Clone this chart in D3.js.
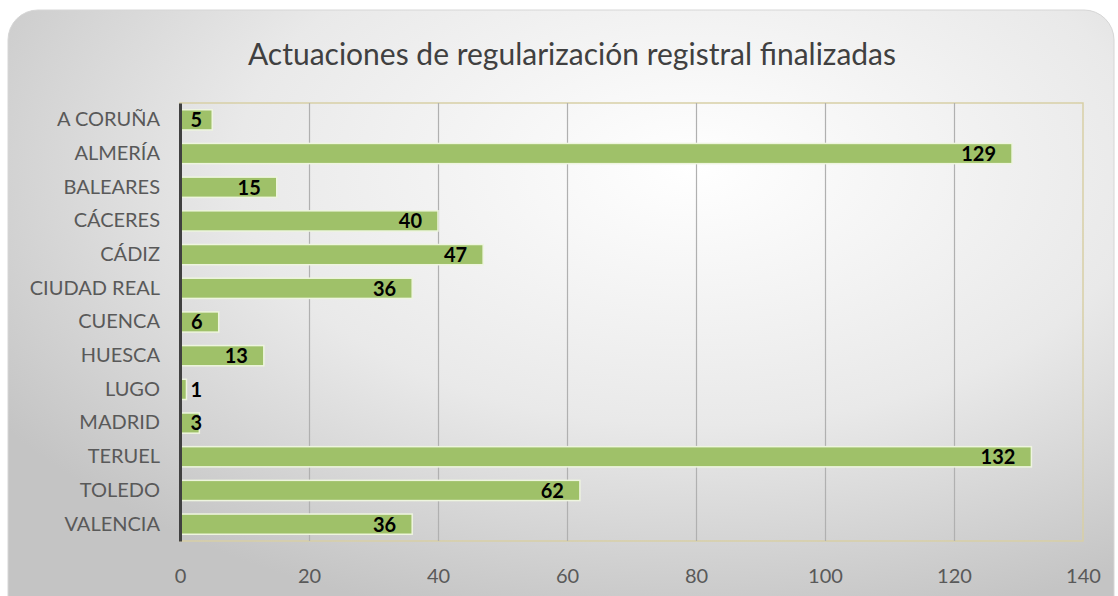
<!DOCTYPE html>
<html lang="es">

<head>
  <meta charset="UTF-8">
  <title>Actuaciones de regularización registral finalizadas</title>
  <script src="https://d3js.org/d3.v7.min.js"></script>
  <style>
    body { margin: 0; background: #ffffff; }
    text { font-family: Lato, "Open Sans", sans-serif; }
  </style>
</head>

<body>
  <svg id='chart' width=1118 height=596></svg>

  <script>
    // data
    const provincias = ["A CORUÑA", "ALMERÍA", "BALEARES", "CÁCERES", "CÁDIZ", "CIUDAD REAL", "CUENCA",
      "HUESCA", "LUGO", "MADRID", "TERUEL", "TOLEDO", "VALENCIA"];
    const actuaciones = [5, 129, 15, 40, 47, 36, 6, 13, 1, 3, 132, 62, 36];
    const xTicks = [0, 20, 40, 60, 80, 100, 120, 140];
    const title = 'Actuaciones de regularización registral finalizadas';

    const svg = d3.select('svg#chart');
    const width = +svg.attr('width');
    const height = +svg.attr('height');
    const margin = { top: 103, right: 35, bottom: 55, left: 180 };
    const chartWidth = width - margin.left - margin.right;
    const chartHeight = height - margin.top - margin.bottom;

    // panel background with a soft radial gradient
    const defs = svg.append('defs');
    const grad = defs.append('radialGradient').attr('id', 'bg')
      .attr('cx', '62%').attr('cy', '25%').attr('r', '75%');
    grad.append('stop').attr('offset', '0%').attr('stop-color', '#ffffff');
    grad.append('stop').attr('offset', '55%').attr('stop-color', '#e9e9e9');
    grad.append('stop').attr('offset', '100%').attr('stop-color', '#c4c4c4');

    svg.append('rect')
      .attr('x', 8).attr('y', 10)
      .attr('width', width - 12).attr('height', height + 30)
      .attr('rx', 30).attr('ry', 30)
      .attr('fill', 'url(#bg)')
      .attr('stroke', '#d6d6d6');

    // title
    svg.append('text')
      .attr('x', 572).attr('y', 65)
      .attr('text-anchor', 'middle')
      .style('font-size', '30px')
      .attr('fill', '#404040')
      .text(title);

    // scales
    const xScale = d3.scaleLinear().domain([0, 140]).range([0, chartWidth]);
    const yScale = d3.scaleBand().domain(provincias).range([0, chartHeight]).paddingInner(0.4).paddingOuter(0.2);

    let chartArea = svg.append('g')
      .attr('transform', 'translate(' + margin.left + ', ' + margin.top + ')');

    // plot area border
    chartArea.append('rect')
      .attr('width', chartWidth).attr('height', chartHeight)
      .attr('fill', 'none')
      .attr('stroke', '#d8cfa6')
      .attr('stroke-width', 1.5);

    // vertical gridlines
    let gridlines = d3.axisBottom(xScale)
      .tickValues(xTicks.slice(1, -1))
      .tickSize(-chartHeight)
      .tickFormat('');
    chartArea.append('g')
      .attr('class', 'x-gridlines')
      .attr('transform', 'translate(0, ' + chartHeight + ')')
      .call(gridlines)
      .call(g => g.select('.domain').remove())
      .call(g => g.selectAll('line').attr('stroke', '#b0b0b0').attr('stroke-width', 1.2));

    // x-axis labels
    let bottomAxis = d3.axisBottom(xScale)
      .tickValues(xTicks)
      .tickSize(0)
      .tickPadding(28)
      .tickFormat(d3.format('d'));
    chartArea.append('g')
      .attr('class', 'x-axis')
      .attr('transform', 'translate(0, ' + chartHeight + ')')
      .call(bottomAxis)
      .call(g => g.select('.domain').remove())
      .call(g => g.selectAll('text')
        .style('font-family', 'Lato, sans-serif')
        .style('font-size', '20px')
        .attr('fill', '#595959'));

    // bars
    chartArea.selectAll('rect.bar')
      .data(actuaciones)
      .join('rect')
      .attr('class', 'bar')
      .attr('x', 0)
      .attr('y', (d, i) => yScale(provincias[i]))
      .attr('width', d => xScale(d))
      .attr('height', yScale.bandwidth())
      .attr('fill', '#9fc169')
      .attr('stroke', '#eef5df')
      .attr('stroke-width', 1.5);

    // data labels
    chartArea.selectAll('text.label')
      .data(actuaciones)
      .join('text')
      .attr('class', 'label')
      .attr('x', d => Math.max(xScale(d) - 16, 22))
      .attr('y', (d, i) => yScale(provincias[i]) + yScale.bandwidth() / 2)
      .attr('dy', '0.37em')
      .attr('text-anchor', 'end')
      .style('font-size', '20px')
      .style('font-weight', 'bold')
      .attr('fill', '#000000')
      .text(d => d);

    // y-axis
    let leftAxis = d3.axisLeft(yScale).tickSize(0).tickPadding(20);
    chartArea.append('g')
      .attr('class', 'y-axis')
      .call(leftAxis)
      .call(g => g.select('.domain').attr('stroke', '#404040').attr('stroke-width', 3))
      .call(g => g.selectAll('text')
        .style('font-family', 'Lato, sans-serif')
        .style('font-size', '20px')
        .attr('fill', '#595959'));
  </script>
</body>

</html>
